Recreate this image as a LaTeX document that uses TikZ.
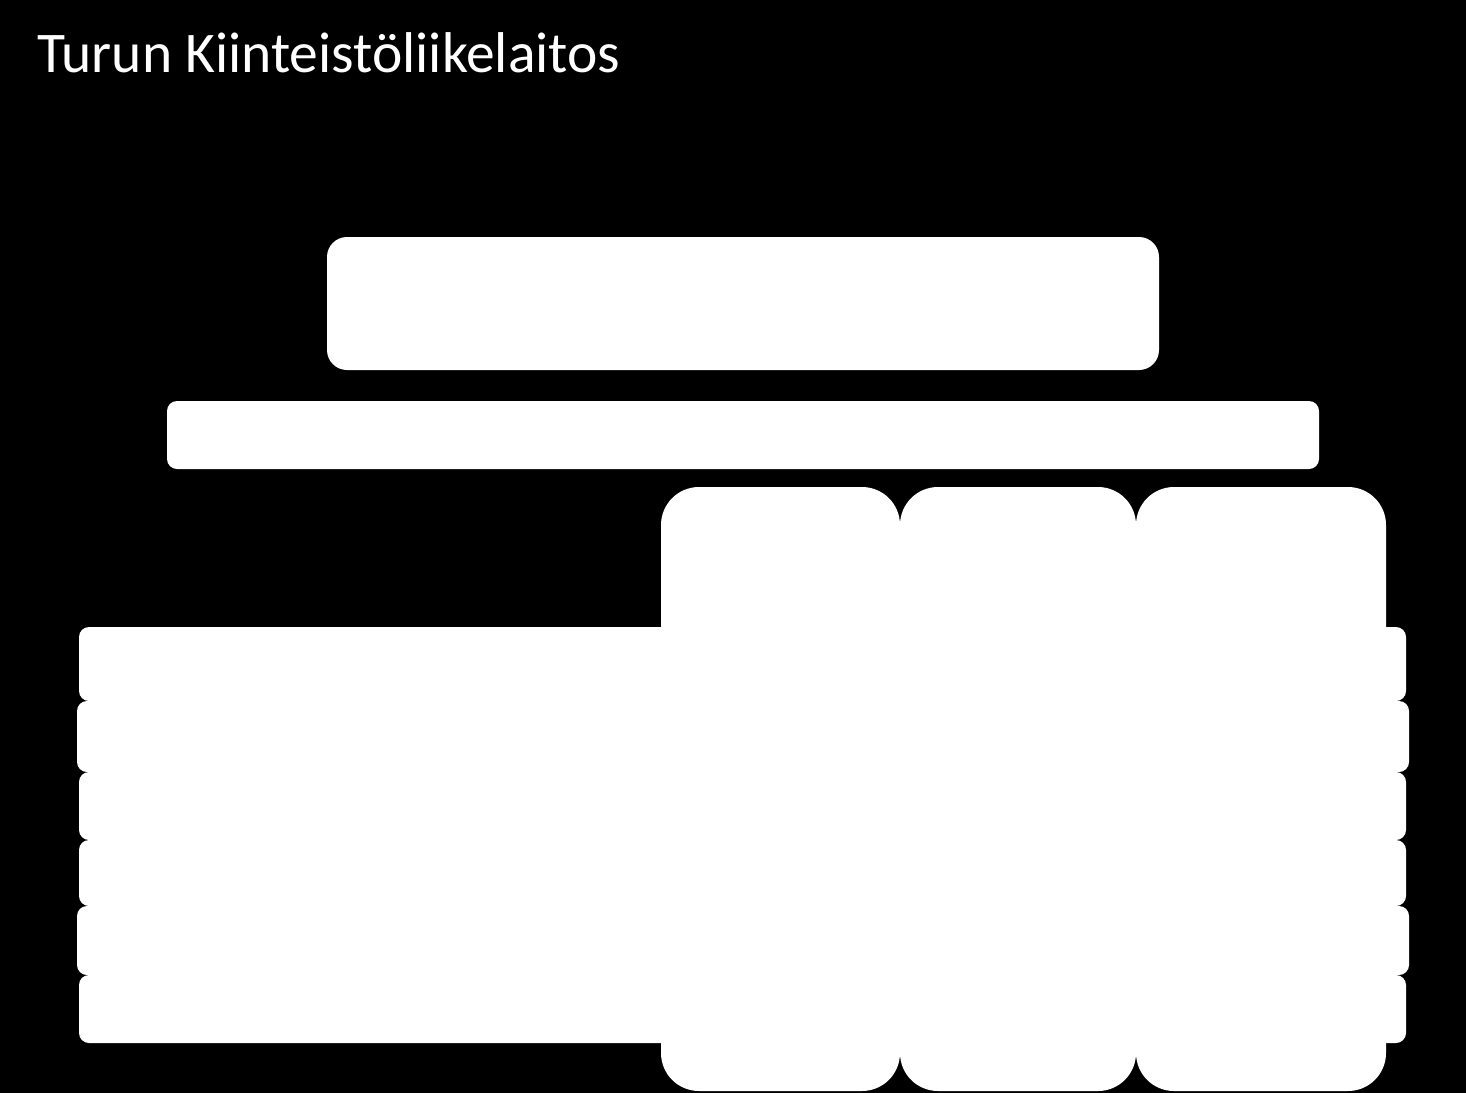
\documentclass[tikz,border=0pt]{standalone}
\usepackage{fontspec}
\setmainfont{Carlito}
\begin{document}
\begin{tikzpicture}[x=1pt,y=-1pt,
  wbox/.style={fill=white,draw=none,inner sep=0pt,outer sep=0pt,rectangle},
  rowbox/.style={wbox,rounded corners=10pt,minimum height=#1},
  colbox/.style={wbox,rounded corners=38pt,minimum height=604pt}]
\useasboundingbox (0,0) rectangle (1466,1092);
\fill[black] (-6,-6) rectangle (1472,1098);
\node[anchor=base west,inner sep=0pt,text=white,font=\fontsize{57.5}{69}\selectfont] (title) at (37,72) {Turun Kiinteistöliikelaitos};
\node[wbox,rounded corners=20pt,minimum width=832pt,minimum height=133pt] (top) at (743,303.5) {};
\node[wbox,rounded corners=10pt,minimum width=1152pt,minimum height=68pt] (bar) at (743,435) {};
\node[colbox,minimum width=239pt] (c1) at (780.5,789) {};
\node[colbox,minimum width=236pt] (c2) at (1018,789) {};
\node[colbox,minimum width=250pt] (c3) at (1261,789) {};
\node[rowbox=74pt,minimum width=1327pt] (r1) at (742.5,664) {};
\node[rowbox=71pt,minimum width=1332pt] (r2) at (743,736.5) {};
\node[rowbox=68pt,minimum width=1327pt] (r3) at (742.5,806) {};
\node[rowbox=66pt,minimum width=1327pt] (r4) at (742.5,873) {};
\node[rowbox=69pt,minimum width=1332pt] (r5) at (743,940.5) {};
\node[rowbox=68pt,minimum width=1327pt] (r6) at (742.5,1009) {};
\end{tikzpicture}
\end{document}
